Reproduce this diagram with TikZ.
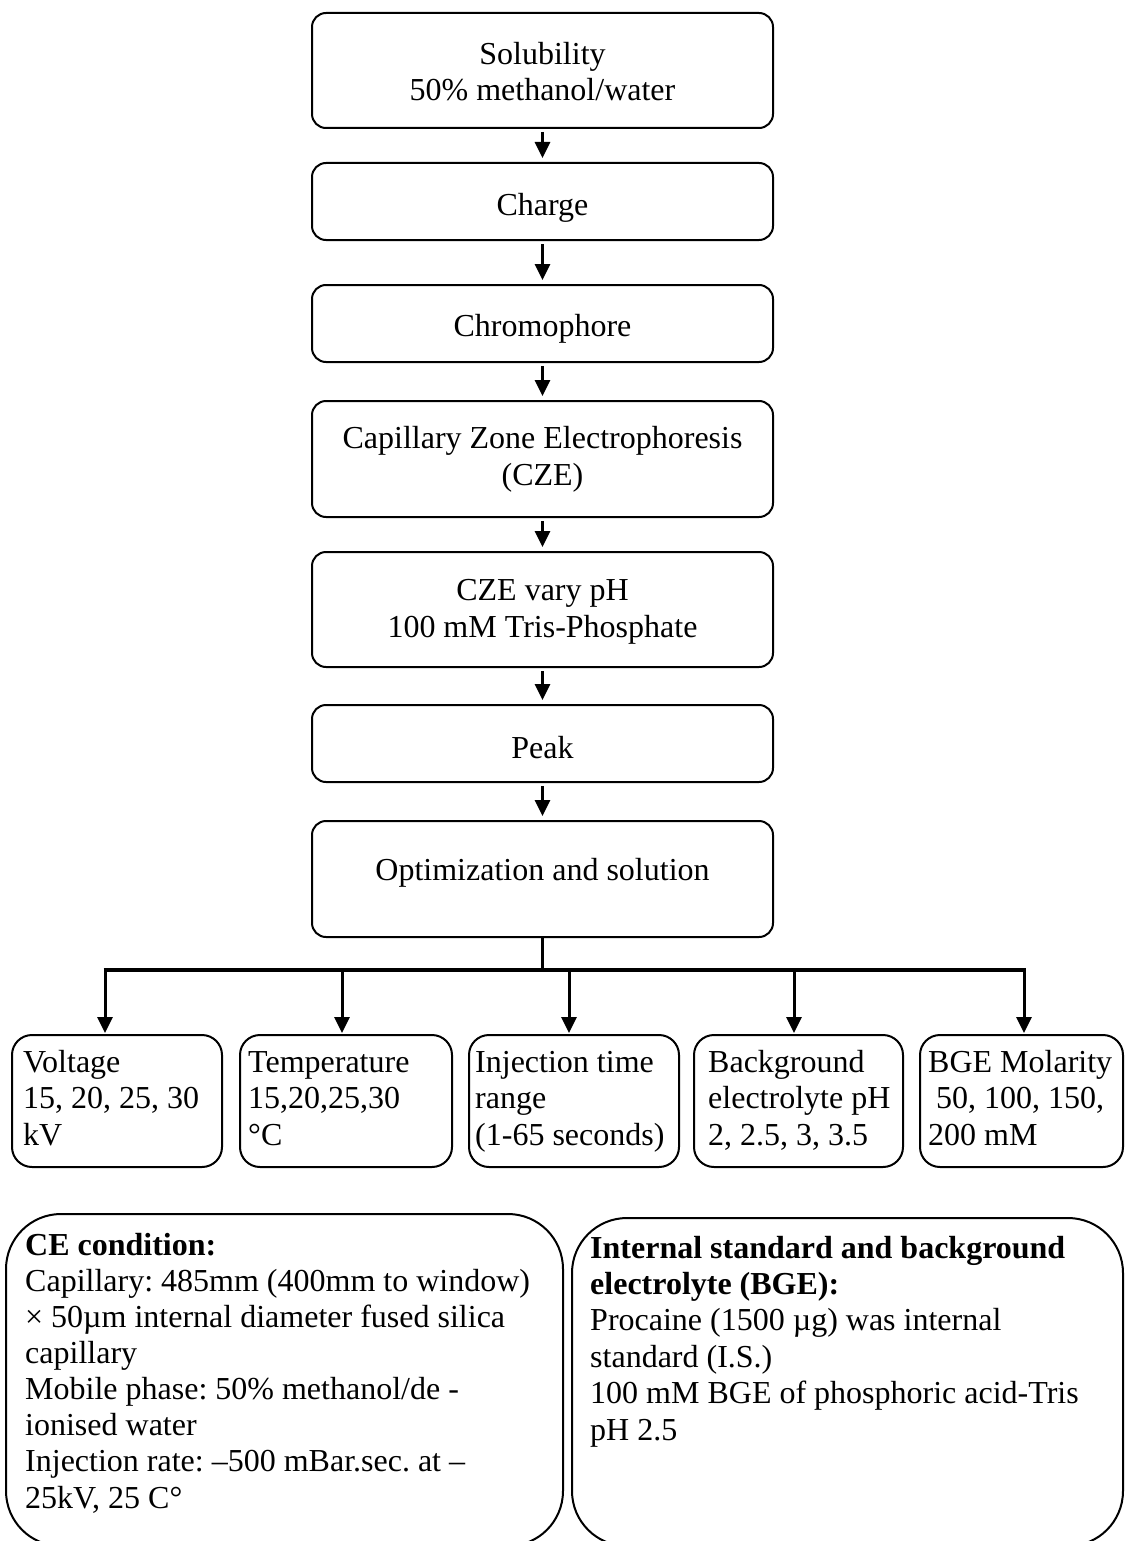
\documentclass[tikz,border=0pt]{standalone}
\usepackage{fontspec}
\setmainfont{Liberation Serif}
\usetikzlibrary{arrows.meta}
\begin{document}
\frenchspacing
\begin{tikzpicture}[x=1pt,y=-1pt,
  every node/.style={font=\fontsize{32}{36.5}\selectfont},
  mainbox/.style={draw, line width=2pt, rounded corners=14pt, minimum width=461pt, inner sep=0pt},
  maintxt/.style={inner sep=0pt, align=center, anchor=base},
  smallbox/.style={draw, line width=2pt, rounded corners=20pt, inner sep=0pt, anchor=north west, minimum height=132pt},
  bigbox/.style={draw, line width=2pt, rounded corners=55pt, inner sep=0pt, anchor=north west},
  txt/.style={inner sep=0pt, align=left, anchor=base west},
  arr/.style={line width=3pt, -{Triangle[length=16pt,width=15pt]}, shorten <=3pt, shorten >=4pt},
  drop/.style={line width=3pt, -{Triangle[length=16pt,width=15pt]}, shorten >=1pt},
  bar/.style={line width=4pt},
  ]
\useasboundingbox (0,0) rectangle (1125,1541);
\clip (0,0) rectangle (1125,1541);

% main column boxes
\node[mainbox, minimum height=115pt] (sol) at (542.5,70.5) {};
\node[mainbox, minimum height=77pt] (cha) at (542.5,201.5) {};
\node[mainbox, minimum height=77pt] (chr) at (542.5,323.5) {};
\node[mainbox, minimum height=116pt] (cze) at (542.5,459) {};
\node[mainbox, minimum height=115pt] (czp) at (542.5,609.5) {};
\node[mainbox, minimum height=77pt] (pea) at (542.5,743.5) {};
\node[mainbox, minimum height=116pt] (opt) at (542.5,879) {};

% main column texts (base anchor = baseline of the last line)
\node[maintxt] (solt) at (542.5,101) {Solubility\\50\% methanol/water};
\node[maintxt] (chat) at (542.5,215) {Charge};
\node[maintxt] (chrt) at (542.5,336) {Chromophore};
\node[maintxt] (czet) at (542.5,485) {Capillary Zone Electrophoresis\\(CZE)};
\node[maintxt] (czpt) at (542.5,637) {CZE vary pH\\100 mM Tris-Phosphate};
\node[maintxt] (peat) at (542.5,758) {Peak};
\node[maintxt] (optt) at (542.5,880) {Optimization and solution};

\draw[arr] (sol) -- (cha);
\draw[arr] (cha) -- (chr);
\draw[arr] (chr) -- (cze);
\draw[arr] (cze) -- (czp);
\draw[arr] (czp) -- (pea);
\draw[arr] (pea) -- (opt);

% branch
\coordinate (bm) at (542.5,970);
\coordinate (bl) at (105,970);
\coordinate (b2) at (342,970);
\coordinate (b3) at (569,970);
\coordinate (b4) at (794,970);
\coordinate (br) at (1024,970);
\draw[line width=3pt] (opt.south) -- (bm);
\draw[bar] ([xshift=-1.5pt]bl) -- ([xshift=1.5pt]br);

% small boxes
\node[smallbox, minimum width=210pt] (vol) at (11,1034) {};
\node[smallbox, minimum width=212pt] (tem) at (239,1034) {};
\node[smallbox, minimum width=210pt] (inj) at (468,1034) {};
\node[smallbox, minimum width=209pt] (bge) at (693,1034) {};
\node[smallbox, minimum width=203pt] (mol) at (919,1034) {};

\draw[drop] (bl) -- (bl |- vol.north);
\draw[drop] (b2) -- (b2 |- tem.north);
\draw[drop] (b3) -- (b3 |- inj.north);
\draw[drop] (b4) -- (b4 |- bge.north);
\draw[drop] (br) -- (br |- mol.north);

\node[txt] (volt) at (23,1145) {Voltage\\15, 20, 25, 30\\kV};
\node[txt] (temt) at (248,1145) {Temperature\\15,20,25,30\\°C};
\node[txt] (injt) at (475,1145) {Injection time\\range\\(1-65 seconds)};
\node[txt] (bget) at (708,1145) {Background\\electrolyte pH\\2, 2.5, 3, 3.5};
\node[txt] (molt) at (928,1145) {BGE Molarity\\\ 50, 100, 150,\\200 mM};

% bottom boxes
\node[bigbox, minimum width=557pt, minimum height=332pt] (ce) at (5,1213) {};
\node[bigbox, minimum width=551pt, minimum height=328pt] (is) at (571,1217) {};

\node[txt, font=\fontsize{32}{36.1}\selectfont] (cet) at (25,1508) {\textbf{CE condition:}\\
Capillary: 485mm (400mm to window)\\
× 50µm internal diameter fused silica\\
capillary\\
Mobile phase: 50\% methanol/de -\\
ionised water\\
Injection rate: –500 mBar.sec. at –\\
25kV, 25 C°};

\node[txt, font=\fontsize{32}{36.4}\selectfont] (ist) at (590,1440) {\textbf{Internal standard and background}\\
\textbf{electrolyte (BGE):}\\
Procaine (1500 µg) was internal\\
standard (I.S.)\\
100 mM BGE of phosphoric acid-Tris\\
pH 2.5};
\end{tikzpicture}
\end{document}
